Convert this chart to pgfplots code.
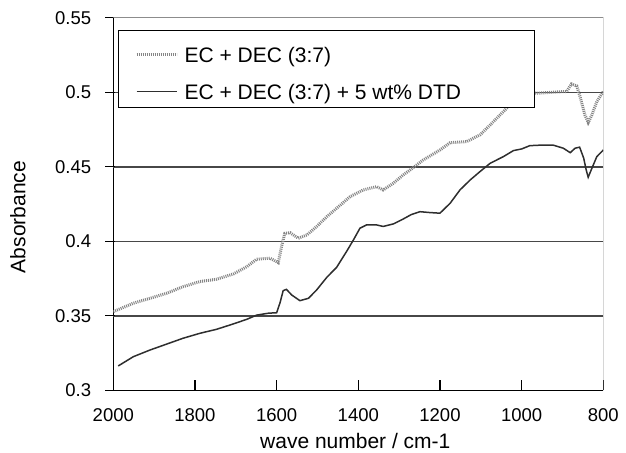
\documentclass[border=0pt]{standalone}
\usepackage{pgfplots}
\pgfplotsset{compat=1.18}
\usepackage{pgfplotstable}
\usepackage{fontspec}
\setmainfont{Liberation Sans}

\pgfplotstableread{
w A
2000 0.3528
1951 0.3585
1910 0.3618
1869 0.3652
1829 0.3696
1788 0.3730
1747 0.3746
1706 0.3781
1673 0.3830
1649 0.3880
1616 0.3887
1596 0.3857
1588 0.3965
1580 0.4054
1567 0.4058
1547 0.4021
1526 0.4043
1502 0.4099
1477 0.4166
1453 0.4222
1420 0.4300
1388 0.4345
1355 0.4367
1339 0.4345
1314 0.4390
1290 0.4446
1273 0.4479
1241 0.4546
1200 0.4613
1175 0.4662
1135 0.4669
1102 0.4714
1077 0.4781
1045 0.4870
1012 0.4960
980 0.4998
959 0.4994
939 0.4998
922 0.5001
898 0.5005
890 0.5005
878 0.5056
865 0.5043
857 0.4971
845 0.4848
837 0.4797
828 0.4848
816 0.4937
800 0.5005
}\ecdec

\pgfplotstableread{
w A
1988 0.3164
1951 0.3226
1910 0.3271
1869 0.3311
1829 0.3350
1788 0.3383
1747 0.3410
1706 0.3446
1673 0.3477
1649 0.3505
1620 0.3518
1600 0.3521
1592 0.3585
1584 0.3669
1576 0.3678
1563 0.3640
1543 0.3602
1522 0.3618
1502 0.3674
1477 0.3759
1453 0.3826
1429 0.3931
1412 0.4009
1396 0.4088
1380 0.4110
1355 0.4110
1339 0.4100
1314 0.4117
1290 0.4150
1270 0.4180
1249 0.4199
1224 0.4193
1200 0.4189
1175 0.4256
1151 0.4345
1126 0.4412
1102 0.4468
1077 0.4524
1045 0.4568
1020 0.4609
1000 0.4620
980 0.4642
950 0.4646
922 0.4645
898 0.4625
881 0.4595
869 0.4625
858 0.4632
848 0.4558
842 0.4480
837 0.4430
828 0.4490
816 0.4568
800 0.4613
}\ecdecdtd

\begin{document}
\begin{tikzpicture}[x=1bp,y=1bp]
\begin{axis}[
  at={(113.3bp,62.6bp)}, anchor=south west,
  scale only axis, width=490bp, height=372.6bp,
  xmin=800, xmax=2000, x dir=reverse,
  ymin=0.3, ymax=0.55,
  xtick={800,1000,1200,1400,1600,1800,2000},
  ytick={0.3,0.35,0.4,0.45,0.5,0.55},
  yticklabels={0.3,0.35,0.4,0.45,0.5,0.55},
  scaled ticks=false,
  /pgf/number format/1000 sep={},
  /pgf/number format/assume math mode=true,
  axis x line*=bottom, axis y line*=left,
  x axis line style={-, line width=1.3bp, black},
  y axis line style={-, line width=1.3bp, black},
  tick align=inside, major tick length=10bp,
  tick style={line width=1.2bp, black},
  ytick style={xshift=-8bp},
  extra y ticks={0.35,0.4,0.45,0.5},
  extra y tick labels={},
  extra y tick style={grid=major},
  major grid style={line width=1.4bp, black!72},
  xticklabel style={anchor=base, yshift=-31bp, inner sep=0pt, font=\fontsize{18.5bp}{22bp}\selectfont},
  yticklabel style={anchor=east, xshift=-22bp, inner sep=0pt, font=\fontsize{18.5bp}{22bp}\selectfont},
  xlabel={wave number / cm-1},
  xlabel style={at={(axis description cs:0.5,0)}, anchor=base, yshift=-58.5bp, xshift=-3bp, inner sep=0pt, font=\fontsize{21bp}{25bp}\selectfont},
  ylabel={Absorbance},
  ylabel style={at={(axis description cs:-0.1945,0.4654)}, anchor=center, inner sep=0pt, font=\fontsize{21bp}{25bp}\selectfont},
  legend cell align=left,
  legend image code/.code={\draw[#1] (0bp,-4bp) -- (40bp,-4bp);},
  legend style={at={(axis description cs:0.0096,0.9672)}, anchor=north west,
    draw=black, line width=1.2bp, inner xsep=16.5bp, inner ysep=4bp,
    row sep=5bp, column sep=6.5bp,
    font=\fontsize{21bp}{25bp}\selectfont,
    nodes={inner sep=0pt, text height=28bp, text depth=4bp}},
]
\addplot[black!48, line width=3bp, dash pattern=on 1bp off 1bp] table[x=w, y=A] {\ecdec};
\addlegendentry{EC + DEC (3:7)}
\addplot[black!82, line width=1.5bp] table[x=w, y=A] {\ecdecdtd};
\addlegendentry{EC + DEC (3:7) + 5 wt\% DTD\hspace*{57bp}}
\draw[black!45, line width=1bp] (rel axis cs:0,1) -- (rel axis cs:1,1) -- (rel axis cs:1,0);
\end{axis}
\pgfresetboundingbox
\path[use as bounding box] (0,0) rectangle (626,453);
\end{tikzpicture}
\end{document}
